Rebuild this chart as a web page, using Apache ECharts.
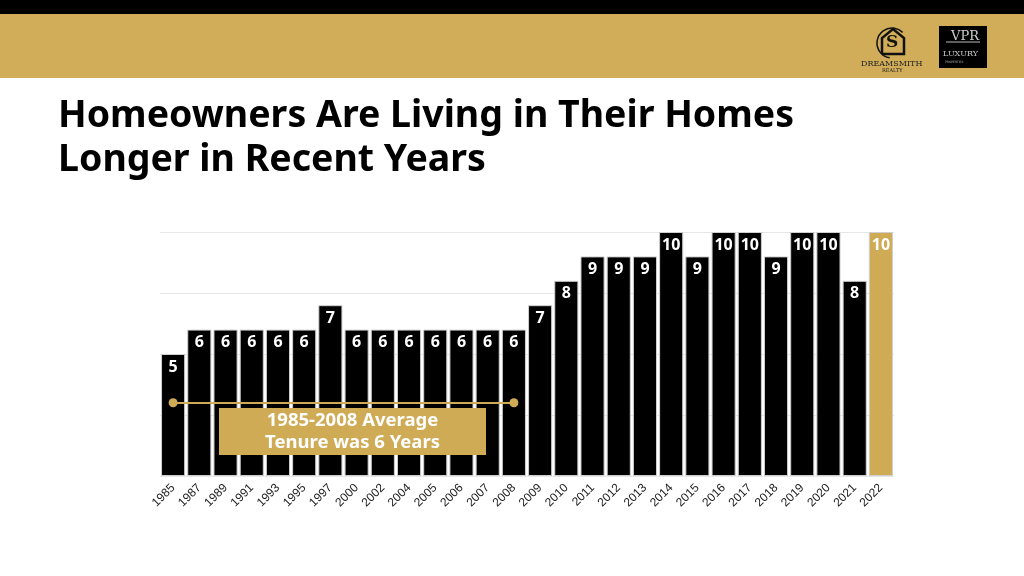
<!DOCTYPE html>
<html>
<head>
<meta charset="utf-8">
<script src="https://cdn.jsdelivr.net/npm/echarts@6/dist/echarts.min.js"></script>
<style>
  * { margin: 0; padding: 0; }
  body { width: 1024px; height: 576px; background: #fff; overflow: hidden; }
  #main { width: 1024px; height: 576px; }
</style>
</head>
<body>
<div id="main"></div>
<script>
  // 数据
  var years = ['1985', '1987', '1989', '1991', '1993', '1995', '1997', '2000', '2002', '2004',
    '2005', '2006', '2007', '2008', '2009', '2010', '2011', '2012', '2013', '2014',
    '2015', '2016', '2017', '2018', '2019', '2020', '2021', '2022'];
  var tenure = [5, 6, 6, 6, 6, 6, 7, 6, 6, 6, 6, 6, 6, 6, 7, 8, 9, 9, 9, 10, 9, 10, 10, 9, 10, 10, 8, 10];
  var avgStart = '1985';
  var avgEnd = '2008';
  var avgLineLevel = 3;
  var gold = '#cfab55';

  var chart = echarts.init(document.getElementById('main'));
  chart.setOption({
    animation: false,
    grid: {
      left: 160,
      right: 130,
      top: 232,
      bottom: 100
    },
    xAxis: {
      type: 'category',
      data: years,
      axisLine: { show: false },
      axisTick: { show: false },
      axisLabel: {
        interval: 0, //全部显示
        rotate: 45, //45度倾斜
        color: '#222',
        fontFamily: 'Liberation Sans',
        fontSize: 12,
        margin: 10
      }
    },
    yAxis: {
      type: 'value',
      min: 0,
      max: 10,
      interval: 2.5,
      axisLabel: { show: false },
      axisLine: { show: false },
      axisTick: { show: false },
      splitLine: { lineStyle: { color: '#e6e6e6', width: 1 } }
    },
    series: [{
      type: 'bar',
      data: tenure.map(function (v, i) {
        return i === tenure.length - 1 ? { value: v, itemStyle: { color: gold } } : v;
      }),
      barCategoryGap: '8%',
      itemStyle: {
        color: '#000',
        borderColor: '#cfcfcf',
        borderWidth: 1
      },
      label: {
        show: true,
        position: 'insideTop',
        distance: 5,
        color: '#fff',
        fontFamily: 'Noto Sans',
        fontWeight: 'bold',
        fontSize: 16
      },
      markLine: {
        silent: true,
        symbol: ['circle', 'circle'],
        symbolSize: 9,
        label: { show: false },
        lineStyle: { color: gold, width: 2, type: 'solid' },
        itemStyle: { color: gold },
        data: [[
          { coord: [avgStart, avgLineLevel] },
          { coord: [avgEnd, avgLineLevel] }
        ]]
      }
    }],
    graphic: [
      { type: 'rect', shape: { x: 0, y: 0, width: 1024, height: 14 }, style: { fill: '#000' } },
      { type: 'rect', shape: { x: 0, y: 14, width: 1024, height: 64 }, style: { fill: '#d1ad59' } },
      // logo 1
      { type: 'arc', shape: { cx: 892, cy: 43, r: 15, startAngle: Math.PI * 0.55, endAngle: Math.PI * 1.75 }, style: { stroke: '#111', lineWidth: 1.5, fill: null } },
      { type: 'polyline', shape: { points: [[882, 54], [882, 38], [893, 29], [904, 38], [904, 54], [882, 54]] }, style: { stroke: '#111', lineWidth: 2.5, fill: null } },
      { type: 'text', left: 886, top: 34, style: { text: 'S', font: 'bold 17px "DejaVu Serif"', fill: '#111' } },
      { type: 'text', left: 861, top: 60, style: { text: 'DREAMSMITH', font: '8px "DejaVu Serif"', fill: '#222' } },
      { type: 'text', left: 882, top: 68, style: { text: 'REALTY', font: '5px "DejaVu Serif"', fill: '#222' } },
      // logo 2
      { type: 'rect', shape: { x: 939, y: 26, width: 48, height: 42 }, style: { fill: '#000' } },
      { type: 'text', left: 951, top: 30, style: { text: 'VPR', font: '13px "DejaVu Serif"', fill: '#ccc' } },
      { type: 'line', shape: { x1: 946, y1: 42, x2: 980, y2: 42 }, style: { stroke: '#bbb', lineWidth: 1 } },
      { type: 'text', left: 943, top: 50, style: { text: 'LUXURY', font: '8px "DejaVu Serif"', fill: '#ccc' } },
      { type: 'text', left: 945, top: 61, style: { text: 'PROPERTIES', font: '3px "DejaVu Sans"', fill: '#aaa' } },
      // 标题
      {
        type: 'text', left: 58, top: 94,
        style: {
          text: 'Homeowners Are Living in Their Homes\nLonger in Recent Years',
          font: 'bold 37.5px "Noto Sans"',
          lineHeight: 44,
          fill: '#000'
        }
      },
      // 注释
      { type: 'rect', z: 100, shape: { x: 219, y: 408, width: 267, height: 47 }, style: { fill: gold } },
      {
        type: 'text', z: 101, x: 352.5, y: 431.5,
        style: {
          text: '1985-2008 Average\nTenure was 6 Years',
          font: 'bold 18.5px "Noto Sans"',
          lineHeight: 22,
          fill: '#fff',
          align: 'center',
          verticalAlign: 'middle'
        }
      }
    ]
  });
</script>
</body>
</html>
